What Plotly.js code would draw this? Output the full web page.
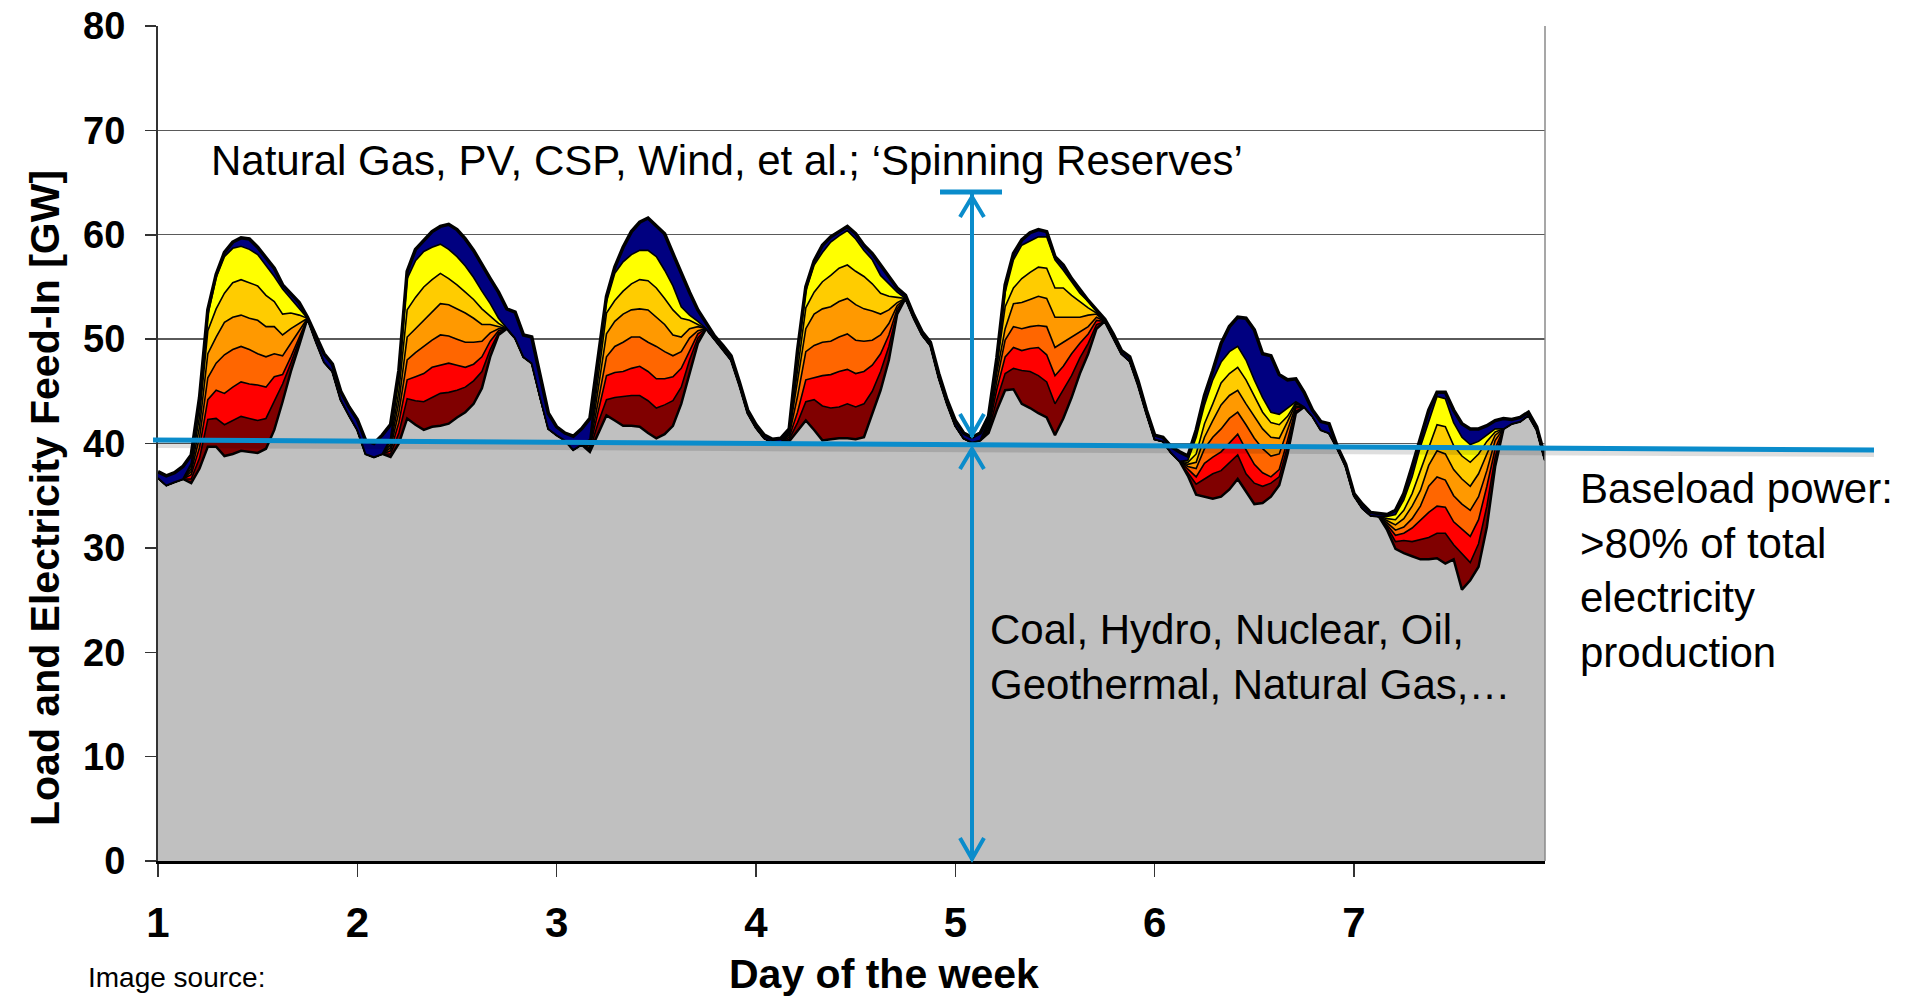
<!DOCTYPE html>
<html>
<head>
<meta charset="utf-8">
<script src="https://cdn.plot.ly/plotly-3.0.1.min.js"></script>
<style>
  html, body { margin: 0; padding: 0; background: #ffffff; }
  #chart { width: 1915px; height: 1002px; }
</style>
</head>
<body>
<div id="chart"></div>
<script>
// ---------------- DATA (GW, hourly over one week, hour 0 = start of day 1) ----------------
const dayTicks = [0, 24, 48, 72, 96, 120, 144];
const dayLabels = ['1', '2', '3', '4', '5', '6', '7'];
const yTicks = [0, 10, 20, 30, 40, 50, 60, 70, 80];

// Total load (top outline)
const load = [
  37.3, 36.9, 37.2, 37.8, 38.9, 44.4, 52.8, 56.2, 58.3, 59.3, 59.7, 59.6, 58.8, 57.8, 56.8, 55.2, 54.4, 53.5, 52.1, 50.4, 48.6, 47.6, 45.0, 43.5,
  42.3, 40.3, 40.0, 40.8, 41.8, 47.0, 56.5, 58.6, 59.5, 60.3, 60.8, 61.0, 60.5, 59.6, 58.5, 57.1, 55.8, 54.5, 52.9, 52.6, 50.4, 50.2, 46.6, 42.9,
  41.6, 41.0, 40.7, 41.4, 42.4, 48.3, 54.1, 56.9, 58.8, 60.3, 61.2, 61.6, 60.9, 60.1, 58.2, 56.3, 54.5, 52.8, 51.6, 50.3, 49.4, 48.4, 45.9, 43.2,
  41.8, 40.8, 40.4, 40.5, 41.4, 48.9, 55.0, 57.5, 59.0, 59.8, 60.3, 60.8, 60.1, 59.0, 58.2, 57.1, 56.0, 54.9, 54.2, 52.3, 50.7, 49.7, 46.7, 44.2,
  42.2, 41.0, 40.6, 41.0, 42.6, 48.2, 55.2, 58.2, 59.5, 60.2, 60.5, 60.3, 57.9, 57.1, 55.8, 54.7, 53.7, 52.8, 51.9, 50.5, 48.9, 48.3, 46.0, 43.2,
  40.8, 40.6, 39.7, 39.2, 38.8, 41.3, 44.6, 47.0, 49.6, 51.2, 52.1, 52.0, 50.9, 48.6, 48.4, 46.6, 46.1, 46.2, 44.9, 43.2, 42.1, 41.9, 39.7, 38.0,
  35.2, 34.2, 33.4, 33.3, 33.2, 33.6, 35.2, 37.8, 40.6, 43.2, 44.9, 44.9, 43.2, 41.9, 41.4, 41.4, 41.7, 42.2, 42.4, 42.3, 42.5, 43.0, 41.6, 38.7
];

// Lowest residual curve (top of the grey area)
const baseload = [
  36.7, 36.0, 36.3, 36.6, 36.2, 37.6, 39.7, 39.7, 38.8, 39.0, 39.3, 39.2, 39.1, 39.5, 41.3, 44.0, 46.9, 49.4, 52.0, 49.8, 47.8, 46.9, 44.2, 42.7,
  41.3, 39.0, 38.7, 39.0, 38.7, 40.0, 42.4, 41.8, 41.3, 41.6, 41.7, 41.9, 42.5, 43.0, 43.8, 45.3, 48.3, 50.4, 51.0, 50.1, 48.3, 47.7, 44.4, 41.4,
  40.8, 40.3, 39.4, 39.9, 39.2, 40.9, 42.7, 42.2, 41.7, 41.7, 41.6, 41.0, 40.5, 40.9, 41.7, 43.8, 46.7, 49.6, 51.0, 50.0, 49.1, 48.0, 45.6, 42.9,
  41.5, 40.5, 40.1, 40.1, 40.2, 41.2, 42.2, 41.3, 40.3, 40.4, 40.5, 40.5, 40.4, 40.6, 42.9, 45.1, 48.0, 52.4, 53.9, 52.0, 50.4, 49.4, 46.3, 43.8,
  41.7, 40.5, 40.1, 40.3, 41.0, 43.2, 45.1, 45.2, 43.8, 43.4, 42.9, 42.5, 40.8, 42.4, 44.4, 46.7, 48.6, 51.0, 51.7, 50.2, 48.6, 47.9, 45.6, 42.9,
  40.4, 40.2, 39.1, 38.3, 36.9, 35.1, 34.9, 34.7, 34.9, 35.6, 36.6, 35.4, 34.2, 34.3, 34.9, 36.0, 39.0, 42.9, 43.5, 42.6, 41.3, 41.0, 39.5, 37.8,
  35.0, 33.8, 33.1, 33.0, 31.7, 29.9, 29.5, 29.2, 28.9, 28.9, 29.0, 28.5, 28.9, 26.0, 26.9, 28.2, 32.0, 37.8, 41.4, 41.9, 42.1, 42.7, 41.3, 38.4
];

// Daytime band boundaries (hours 4..18 of each of the 7 days, 15 values per day)
const lineMaroon = [
  36.6, 38.6, 42.3, 42.4, 41.8, 42.2, 42.6, 42.4, 42.2, 42.4, 44.0, 45.7, 47.7, 49.9, 52.0,
  39.0, 41.0, 44.3, 44.1, 44.0, 44.4, 44.8, 44.9, 45.1, 45.4, 46.0, 46.9, 49.0, 50.6, 51.0,
  39.4, 42.0, 44.2, 44.4, 44.5, 44.6, 44.6, 44.1, 43.4, 43.7, 44.1, 45.4, 48.0, 50.1, 51.0,
  40.4, 42.0, 44.0, 44.2, 43.6, 43.4, 43.5, 43.8, 43.5, 43.8, 45.0, 46.9, 49.3, 52.6, 53.9,
  41.2, 44.2, 46.7, 47.2, 47.0, 46.9, 46.5, 45.9, 43.8, 45.1, 46.5, 48.2, 49.6, 51.4, 51.7,
  37.2, 36.1, 36.6, 37.1, 37.4, 38.2, 38.9, 37.1, 36.2, 35.9, 36.2, 36.8, 39.7, 43.1, 43.5,
  32.0, 30.6, 30.7, 30.6, 30.8, 31.0, 31.4, 31.4, 30.3, 29.5, 28.6, 30.4, 34.0, 38.7, 41.4
];
const lineRed = [
  37.0, 39.6, 44.2, 45.1, 44.8, 45.4, 45.9, 45.7, 45.6, 45.4, 46.4, 46.6, 48.3, 50.1, 52.0,
  39.3, 42.0, 46.1, 46.4, 46.7, 47.3, 47.5, 47.7, 47.5, 47.3, 47.6, 48.3, 49.8, 50.8, 51.0,
  39.6, 43.1, 46.5, 46.8, 46.9, 47.2, 47.4, 46.9, 46.2, 46.2, 46.4, 47.2, 48.9, 50.5, 51.0,
  40.6, 43.0, 46.1, 46.3, 46.5, 46.6, 46.9, 47.1, 46.7, 46.9, 47.5, 48.6, 50.4, 52.9, 53.9,
  41.4, 45.2, 48.3, 49.2, 48.9, 49.1, 49.2, 48.5, 46.5, 47.4, 48.6, 49.6, 50.5, 51.8, 51.7,
  37.5, 36.8, 38.1, 38.7, 39.2, 40.1, 40.9, 39.4, 38.0, 37.2, 36.8, 37.5, 40.3, 43.4, 43.5,
  32.2, 31.2, 31.4, 31.9, 32.7, 33.4, 34.0, 33.9, 32.5, 31.8, 31.1, 32.7, 35.9, 39.5, 41.4
];
const lineDarkOrange = [
  37.3, 40.6, 46.3, 47.7, 48.5, 49.0, 49.3, 49.0, 48.6, 48.3, 48.6, 48.4, 49.6, 50.8, 52.0,
  39.6, 43.0, 48.0, 48.7, 49.3, 49.9, 50.4, 50.3, 50.0, 49.7, 49.7, 49.8, 50.6, 51.0, 51.0,
  39.8, 44.2, 48.3, 49.3, 49.7, 50.2, 50.2, 49.7, 49.3, 48.8, 48.4, 48.8, 50.1, 50.8, 51.0,
  40.8, 44.5, 48.8, 49.4, 49.7, 49.8, 50.2, 50.5, 49.9, 49.8, 49.9, 50.4, 51.5, 53.2, 53.9,
  41.6, 46.0, 49.9, 51.2, 51.0, 51.2, 51.3, 51.2, 49.2, 49.7, 50.2, 50.7, 51.2, 52.1, 51.7,
  37.8, 37.6, 39.5, 40.6, 41.4, 42.4, 43.0, 41.8, 40.5, 39.5, 38.8, 39.0, 41.3, 43.6, 43.5,
  32.4, 31.7, 32.0, 32.8, 34.0, 35.9, 36.8, 36.5, 35.0, 34.2, 33.6, 34.9, 37.4, 40.3, 41.4
];
const lineOrange = [
  37.6, 41.6, 48.6, 50.2, 51.6, 52.1, 52.3, 52.0, 51.8, 51.2, 51.2, 50.4, 51.0, 51.5, 52.0,
  39.9, 44.0, 50.2, 51.0, 51.8, 52.6, 53.4, 53.3, 52.9, 52.5, 52.0, 51.4, 51.4, 51.2, 51.0,
  40.0, 45.3, 50.5, 51.7, 52.4, 52.8, 52.9, 52.8, 52.1, 51.4, 50.4, 50.2, 51.0, 51.2, 51.0,
  41.0, 45.8, 51.0, 52.4, 52.9, 53.1, 53.6, 53.9, 53.3, 52.9, 52.7, 52.4, 52.8, 53.5, 53.9,
  41.8, 46.8, 51.0, 53.4, 53.5, 53.8, 54.1, 53.9, 52.1, 52.1, 52.1, 52.1, 52.3, 52.4, 51.7,
  38.0, 38.2, 40.6, 42.2, 43.7, 44.6, 45.1, 43.8, 42.6, 41.4, 40.6, 40.5, 42.1, 43.8, 43.5,
  32.6, 32.2, 32.8, 34.0, 35.5, 37.9, 39.3, 39.0, 37.5, 36.6, 35.9, 37.1, 39.0, 40.8, 41.4
];
const lineGold = [
  37.9, 42.6, 50.8, 52.9, 54.4, 55.4, 55.7, 55.4, 55.1, 54.2, 53.6, 52.4, 52.5, 52.3, 52.0,
  40.2, 45.0, 52.8, 54.0, 55.0, 55.7, 56.3, 55.8, 55.2, 54.5, 53.8, 52.9, 52.2, 51.5, 51.0,
  40.2, 46.3, 52.5, 53.7, 54.6, 55.3, 55.7, 55.6, 54.9, 53.9, 52.8, 52.0, 51.8, 51.4, 51.0,
  41.1, 47.0, 53.0, 54.5, 55.5, 56.1, 56.8, 57.1, 56.5, 56.0, 55.3, 54.4, 54.1, 54.0, 53.9,
  42.0, 47.4, 53.1, 54.9, 55.8, 56.4, 56.9, 56.8, 54.9, 54.9, 54.2, 53.6, 53.0, 52.5, 51.7,
  38.2, 39.0, 41.9, 43.8, 45.8, 46.7, 47.3, 46.1, 44.5, 43.0, 42.0, 41.8, 42.6, 43.9, 43.5,
  32.8, 32.7, 33.6, 35.2, 37.4, 39.7, 41.8, 41.6, 39.8, 38.8, 38.2, 39.0, 40.2, 41.1, 41.4
];
const lineYellow = [
  38.1, 43.6, 52.3, 55.9, 57.9, 58.7, 58.9, 58.6, 58.1, 57.1, 56.0, 54.8, 53.9, 53.0, 52.0,
  40.5, 46.2, 55.8, 57.5, 58.4, 58.8, 59.1, 58.6, 57.9, 57.0, 55.9, 54.6, 53.4, 52.0, 51.0,
  40.4, 47.4, 53.6, 56.3, 57.4, 58.1, 58.5, 58.5, 57.9, 56.6, 55.1, 53.1, 52.3, 51.7, 51.0,
  41.2, 48.3, 54.6, 57.1, 58.3, 59.3, 59.9, 60.4, 59.6, 58.5, 57.6, 56.1, 55.3, 54.5, 53.9,
  42.2, 47.8, 54.5, 57.6, 59.0, 59.4, 59.8, 59.8, 57.6, 56.6, 55.5, 54.4, 53.6, 52.7, 51.7,
  38.4, 40.6, 43.7, 46.1, 47.8, 48.8, 49.3, 48.0, 46.1, 44.4, 43.0, 42.8, 43.4, 44.0, 43.5,
  33.0, 33.2, 34.6, 36.8, 39.7, 42.2, 44.5, 44.3, 42.0, 40.6, 39.9, 40.2, 40.8, 41.4, 41.4
];

// ---------------- BUILD ----------------
const hours = load.map((_, i) => i);
const firstHour = 4, lastHour = 18, perDay = lastHour - firstHour + 1;
function fullLine(daytime) {
  return hours.map(h => {
    const d = Math.floor(h / 24), dh = h % 24;
    return (dh >= firstHour && dh <= lastHour) ? daytime[d * perDay + dh - firstHour] : baseload[h];
  });
}

const bands = [
  { y: fullLine(lineMaroon), color: '#800000' },
  { y: fullLine(lineRed), color: '#FF0000' },
  { y: fullLine(lineDarkOrange), color: '#FF6600' },
  { y: fullLine(lineOrange), color: '#FF9900' },
  { y: fullLine(lineGold), color: '#FFCC00' },
  { y: fullLine(lineYellow), color: '#FFFF00' }
];

const traces = [];
traces.push({
  x: hours, y: baseload, type: 'scatter', mode: 'lines',
  fill: 'tozeroy', fillcolor: '#C0C0C0',
  line: { color: '#000000', width: 2.5 }, hoverinfo: 'skip'
});
bands.forEach(b => traces.push({
  x: hours, y: b.y, type: 'scatter', mode: 'lines',
  fill: 'tonexty', fillcolor: b.color,
  line: { color: '#000000', width: 1.6 }, hoverinfo: 'skip'
}));
traces.push({
  x: hours, y: load, type: 'scatter', mode: 'lines',
  fill: 'tonexty', fillcolor: '#000080',
  line: { color: '#000000', width: 3.5 }, hoverinfo: 'skip'
});

// ---------------- LAYOUT ----------------
const L = 158, R = 1545, T = 26, B = 861;
const px = v => (v - L) / (R - L);       // pixel x -> paper
const py = v => (B - v) / (B - T);       // pixel y -> paper
const blue = '#0A8CCB';
const txtFont = { family: 'Liberation Sans, Arial, sans-serif', size: 42, color: '#000000' };

function pathOf(pts) {
  return pts.map((p, i) => (i ? 'L' : 'M') + px(p[0]).toFixed(5) + ',' + py(p[1]).toFixed(5)).join(' ');
}
const ax = 972;
const shapes = [
  // right frame
  { type: 'line', xref: 'paper', yref: 'paper', x0: 1, x1: 1, y0: 0, y1: 1, line: { color: '#8a8a8a', width: 1.5 } },
  // baseline shadow + baseline
  { type: 'line', xref: 'paper', yref: 'paper', x0: px(157), y0: py(445), x1: px(1874), y1: py(454), line: { color: 'rgba(0,0,0,0.13)', width: 6 } },
  { type: 'line', xref: 'paper', yref: 'paper', x0: px(153), y0: py(440), x1: px(1874), y1: py(450), line: { color: blue, width: 5 } },
  // top bar of spinning reserve arrow
  { type: 'line', xref: 'paper', yref: 'paper', x0: px(940), y0: py(192), x1: px(1002), y1: py(192), line: { color: blue, width: 5 } },
  // upper double arrow
  { type: 'path', xref: 'paper', yref: 'paper', path: pathOf([[ax, 194], [ax, 437]]), line: { color: blue, width: 4 } },
  { type: 'path', xref: 'paper', yref: 'paper', path: pathOf([[ax - 12, 217], [ax, 197], [ax + 12, 217]]), line: { color: blue, width: 4 } },
  { type: 'path', xref: 'paper', yref: 'paper', path: pathOf([[ax - 12, 414], [ax, 435], [ax + 12, 414]]), line: { color: blue, width: 4 } },
  // lower double arrow
  { type: 'path', xref: 'paper', yref: 'paper', path: pathOf([[ax, 448], [ax, 860]]), line: { color: blue, width: 4 } },
  { type: 'path', xref: 'paper', yref: 'paper', path: pathOf([[ax - 12, 469], [ax, 449], [ax + 12, 469]]), line: { color: blue, width: 4 } },
  { type: 'path', xref: 'paper', yref: 'paper', path: pathOf([[ax - 12, 838], [ax, 859], [ax + 12, 838]]), line: { color: blue, width: 4 } }
];

const annotations = [
  { text: 'Natural Gas, PV, CSP, Wind, et al.; ‘Spinning Reserves’', xref: 'paper', yref: 'paper',
    x: px(209), y: py(160), xanchor: 'left', yanchor: 'middle', showarrow: false, font: txtFont },
  { text: 'Coal, Hydro, Nuclear, Oil,<br>Geothermal, Natural Gas,…', xref: 'paper', yref: 'paper',
    x: px(988), y: py(657), xanchor: 'left', yanchor: 'middle', align: 'left', showarrow: false, font: txtFont },
  { text: 'Baseload power:<br>&gt;80% of total<br>electricity<br>production', xref: 'paper', yref: 'paper',
    x: px(1578), y: py(570), xanchor: 'left', yanchor: 'middle', align: 'left', showarrow: false, font: txtFont },
  { text: 'Image source:', xref: 'paper', yref: 'paper',
    x: px(86), y: py(977), xanchor: 'left', yanchor: 'middle', showarrow: false,
    font: { family: 'Liberation Sans, Arial, sans-serif', size: 28, color: '#000000' } },
  { text: '<b>Day of the week</b>', xref: 'paper', yref: 'paper',
    x: px(884), y: py(974), xanchor: 'center', yanchor: 'middle', showarrow: false,
    font: { family: 'Liberation Sans, Arial, sans-serif', size: 41, color: '#000000' } },
  { text: '<b>Load and Electricity Feed-In [GW]</b>', xref: 'paper', yref: 'paper', textangle: -90,
    x: px(45), y: py(498), xanchor: 'center', yanchor: 'middle', showarrow: false,
    font: { family: 'Liberation Sans, Arial, sans-serif', size: 41, color: '#000000' } }
];

const layout = {
  width: 1915, height: 1002,
  margin: { l: L, r: 1915 - R, t: T, b: 1002 - B, pad: 0 },
  paper_bgcolor: '#ffffff', plot_bgcolor: '#ffffff',
  showlegend: false,
  xaxis: {
    range: [0, 167], tickmode: 'array', tickvals: dayTicks, ticktext: dayLabels.map(s => '<b>' + s + '</b>'),
    ticks: 'outside', ticklen: 13, tickwidth: 1.5, tickcolor: '#333333',
    showline: true, linecolor: '#000000', linewidth: 2.5, showgrid: false, zeroline: false,
    tickfont: { family: 'Liberation Sans, Arial, sans-serif', size: 42, color: '#000000' },
    ticklabelstandoff: 10
  },
  yaxis: {
    range: [0, 80], tickmode: 'array', tickvals: yTicks, ticktext: yTicks.map(v => '<b>' + v + '</b>'),
    ticks: 'outside', ticklen: 11, tickwidth: 1.5, tickcolor: '#333333',
    showline: true, linecolor: '#333333', linewidth: 2, showgrid: true, gridcolor: '#5a5a5a', gridwidth: 1.3,
    zeroline: false,
    tickfont: { family: 'Liberation Sans, Arial, sans-serif', size: 38, color: '#000000' },
    ticklabelstandoff: 12
  },
  shapes: shapes,
  annotations: annotations
};

Plotly.newPlot('chart', traces, layout, { displayModeBar: false, staticPlot: true });
</script>
</body>
</html>
